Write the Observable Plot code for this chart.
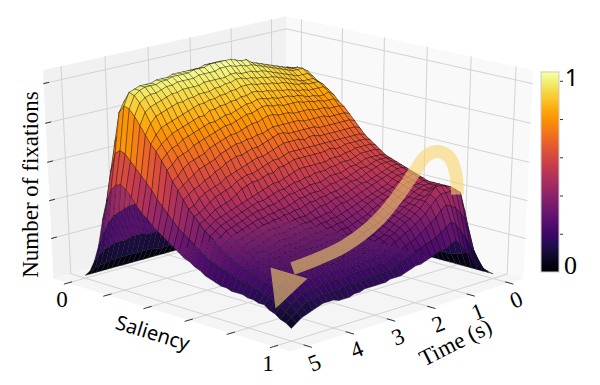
<!DOCTYPE html>
<html><head><meta charset="utf-8">
<style>html,body{margin:0;padding:0;background:#fff}</style>
<script src="https://cdn.jsdelivr.net/npm/d3@7"></script>
<script src="https://cdn.jsdelivr.net/npm/@observablehq/plot@0.6"></script>
</head><body><div id="chart"></div>
<script>
const timeTicks=[0,1,2,3,4,5];
const salTicks=[0,0.2,0.4,0.6,0.8,1];
const zTicks=[0.2,0.4,0.6,0.8,1];
const colorMax=1.046;
// fixations (percent of peak), one row per time step (1/8 s), one column per saliency step (1/40)
const surface=[
[0,0,0,0,1,1,1,1,1,1, 1,1,1,1,1,1,1,1,1,1, 1,1,1,1,1,1,1,1,1,1, 1,1,1,1,1,1,1,1,1,1, 1],
[0,1,2,4,7,9,10,11,11,11, 11,10,10,10,9,9,9,8,8,8, 7,7,7,7,7,7,7,7,7,7, 7,7,7,7,8,9,10,11,7,4, 3],
[0,2,5,10,18,24,28,29,29,29, 28,28,27,26,25,24,23,22,21,20, 20,19,18,18,17,17,16,16,16,16, 16,17,17,18,18,19,20,20,14,9, 5],
[0,3,10,21,36,49,57,59,59,58, 58,57,56,54,53,51,50,49,47,45, 43,41,40,39,37,37,36,35,34,34, 33,33,34,34,35,35,36,35,24,14, 7],
[0,5,14,29,50,68,78,82,83,83, 81,79,78,76,74,72,70,67,64,62, 59,57,55,54,52,51,50,49,48,47, 47,46,46,46,46,46,46,45,32,19, 9],
[0,5,15,31,54,74,85,89,90,90, 88,86,85,83,81,78,76,73,70,67, 64,62,60,58,56,55,54,53,52,51, 50,49,48,48,48,48,48,47,36,24, 14],
[0,5,15,32,55,75,87,91,92,92, 90,88,87,85,83,80,77,74,71,68, 65,63,61,59,57,56,55,54,53,52, 51,50,49,48,48,48,49,47,39,28, 18],
[0,5,15,32,55,76,88,92,92,92, 90,88,87,85,82,80,77,74,71,68, 65,63,61,59,57,56,55,54,53,51, 50,49,48,48,47,48,50,47,41,32, 22],
[0,5,15,32,55,76,88,92,93,92, 90,88,87,85,82,80,77,74,71,68, 65,63,61,59,57,56,55,53,52,51, 50,49,48,47,47,47,50,47,42,34, 25],
[0,5,15,32,54,76,89,93,94,93, 91,89,88,85,83,81,78,74,71,68, 65,63,61,59,57,55,54,52,51,50, 49,48,47,46,45,45,47,45,40,32, 24],
[0,5,15,32,54,77,89,94,95,94, 92,90,88,86,83,81,78,75,71,68, 65,63,60,58,56,54,53,51,50,48, 47,46,45,44,44,44,44,42,37,30, 22],
[0,5,15,31,54,77,90,95,96,95, 93,91,89,86,84,82,78,75,71,68, 65,62,60,57,55,54,52,50,49,47, 46,45,44,43,42,42,41,39,35,28, 22],
[0,5,15,31,54,77,91,96,97,96, 94,92,90,87,85,82,79,75,71,68, 65,62,59,57,55,53,51,49,48,46, 45,44,43,41,41,40,39,37,33,27, 21],
[0,5,15,31,54,77,92,97,98,97, 95,93,91,88,85,83,79,75,72,68, 65,63,59,57,54,52,50,49,47,45, 44,43,41,40,39,38,37,35,31,26, 20],
[0,5,15,31,53,78,93,98,99,98, 96,94,91,88,86,83,79,75,72,69, 65,62,59,56,53,51,50,48,46,44, 43,41,40,38,38,37,36,33,29,25, 19],
[0,5,14,31,53,78,94,99,100,99, 97,94,92,89,86,83,79,76,72,69, 65,62,58,56,53,51,49,47,45,43, 42,40,38,37,36,35,34,32,28,24, 18],
[0,5,14,31,53,79,95,100,102,100, 97,95,92,89,86,83,80,76,72,68, 65,62,58,55,53,50,48,46,44,42, 40,38,37,35,34,33,32,30,27,23, 18],
[0,5,14,30,52,79,96,101,102,100, 98,95,93,90,87,84,80,76,72,69, 65,62,58,55,52,50,47,45,43,41, 39,37,36,34,33,31,31,29,25,22, 17],
[0,5,14,30,52,80,97,102,103,101, 98,96,93,90,87,84,80,76,72,69, 65,62,58,55,51,49,47,45,43,40, 38,36,35,33,31,30,29,27,24,21, 16],
[0,5,14,30,52,80,98,102,104,101, 98,96,94,91,88,85,81,76,73,69, 65,62,58,54,51,48,46,44,42,39, 37,35,33,32,30,29,28,26,23,20, 15],
[0,5,14,30,52,80,98,103,104,102, 99,97,94,91,88,85,81,76,73,69, 65,62,58,54,51,48,46,43,40,38, 36,34,32,30,28,27,26,24,21,18, 15],
[0,5,14,30,53,80,98,103,104,102, 99,97,94,90,87,84,80,75,72,68, 64,61,57,53,50,48,45,43,40,38, 36,34,32,30,28,27,26,24,21,18, 15],
[0,5,15,31,53,81,98,103,104,102, 98,96,93,90,87,83,79,74,71,67, 63,60,56,53,50,47,45,42,39,37, 35,33,32,30,28,27,26,24,21,18, 14],
[0,5,15,31,54,81,98,103,104,101, 98,96,93,89,86,83,79,74,70,66, 63,60,55,52,49,47,44,41,39,37, 35,33,31,30,28,27,26,24,21,18, 14],
[0,5,15,32,55,81,98,102,103,101, 98,95,92,89,85,82,78,73,69,65, 62,58,54,51,49,46,43,40,38,36, 34,33,31,29,28,26,25,23,21,18, 14],
[0,5,15,32,55,82,98,102,103,101, 98,95,92,88,84,81,77,73,69,65, 61,58,54,51,48,45,43,40,38,36, 34,32,31,29,28,26,25,23,21,17, 14],
[0,5,16,33,56,82,98,102,103,101, 98,94,91,88,84,80,76,72,68,64, 60,57,53,50,47,44,42,40,38,36, 34,32,30,29,28,26,25,23,21,17, 14],
[0,5,16,33,57,82,98,102,102,100, 97,94,91,87,83,80,76,72,67,63, 59,56,52,49,46,44,42,39,37,35, 33,32,30,29,27,26,25,23,21,17, 13],
[0,6,16,33,57,83,98,102,102,100, 97,94,90,87,82,79,75,71,67,62, 59,56,51,48,46,43,41,39,37,35, 33,31,30,29,27,26,25,23,20,17, 13],
[0,6,16,34,58,83,97,102,102,100, 97,93,90,85,82,78,74,70,66,61, 58,55,50,48,45,43,41,38,36,34, 32,31,30,28,27,26,25,23,20,17, 12],
[0,6,16,34,58,83,97,101,102,100, 97,93,89,85,81,77,73,69,65,60, 57,54,49,47,45,42,40,38,36,34, 32,31,30,28,27,26,25,23,20,16, 12],
[0,6,17,34,59,84,97,101,101,99, 96,92,88,84,80,76,72,67,63,59, 55,52,48,46,44,42,40,38,36,34, 32,30,29,28,27,26,25,23,20,16, 12],
[0,6,17,35,60,84,97,101,101,99, 96,92,87,83,79,75,70,66,62,57, 54,50,47,45,43,41,39,37,35,33, 31,30,29,28,27,26,25,23,20,16, 13],
[0,6,17,35,60,84,96,100,100,98, 95,91,86,82,78,74,69,65,60,56, 53,49,46,44,42,40,38,36,34,32, 30,29,28,27,26,25,24,22,19,16, 13],
[0,6,16,35,60,84,96,100,100,97, 94,90,85,81,77,72,68,64,59,55, 52,48,45,43,41,39,37,35,33,31, 30,29,28,27,26,25,24,22,19,16, 13],
[0,6,16,34,59,83,96,100,100,97, 93,89,84,80,75,71,67,62,57,54, 50,47,44,42,40,38,36,34,32,31, 29,28,27,26,25,24,23,21,19,15, 12],
[0,6,16,33,58,82,95,99,99,96, 92,88,83,78,74,70,65,60,56,52, 48,45,43,41,39,37,35,33,31,30, 28,27,27,26,25,24,23,21,18,15, 11],
[0,5,15,32,55,79,93,98,97,94, 90,85,80,76,72,67,62,58,54,49, 46,43,41,39,37,35,33,31,29,28, 26,26,25,24,23,22,21,19,16,13, 10],
[0,5,14,29,50,73,88,92,91,88, 84,80,76,73,69,65,60,56,52,48, 45,42,39,37,35,33,31,29,27,26, 25,24,23,22,21,20,18,16,14,11, 9],
[0,4,12,24,42,58,68,70,69,66, 63,60,57,54,50,47,44,41,38,36, 34,32,30,28,26,25,24,23,22,21, 20,20,19,18,17,16,15,13,11,9, 7],
[0,3,9,18,32,43,50,53,54,52, 49,45,42,40,37,35,33,31,29,27, 25,24,22,21,19,18,17,16,16,15, 15,15,14,14,13,13,11,10,8,7, 5]
];
const arrowShaftX=[457,455,449,437,425,415,400,378,345,318,292];
const arrowShaftY=[194,172,157,151,156,170,192,219,245,258,268];
const arrowHeadX=[270,307,275,270];
const arrowHeadY=[267,278,308,267];

// camera: box coordinates (u, v, w) to picture coordinates
function proj(u,v,w){
  const h=u-v,g=u+v-1,d=1-0.0633*g-0.041*w;
  return {x:(288+235*h-16.5*g-12.3*w)/d,y:(278-211*w+50.8*g)/d};
}
const U=s=>0.065+0.87*s, V=t=>0.065+0.865*t/5, W=z=>0.014+0.925*z;
const seg=(id,pts)=>pts.map(p=>({id,...proj(...p)}));

const leftWall=seg("l",[[0,1,0],[0,0,0],[0,0,1],[0,1,1],[0,1,0]]);
const rightWall=seg("r",[[0,0,0],[1,0,0],[1,0,1],[0,0,1],[0,0,0]]);
const floorPane=seg("f",[[0,1,0],[1,1,0],[1,0,0],[0,0,0],[0,1,0]]);
const grid=[];
timeTicks.forEach(t=>{grid.push(...seg("lt"+t,[[0,V(t),0],[0,V(t),1]]),...seg("ft"+t,[[0,V(t),0],[1,V(t),0]]));});
salTicks.forEach(s=>{grid.push(...seg("rs"+s,[[U(s),0,0],[U(s),0,1]]),...seg("fs"+s,[[U(s),0,0],[U(s),1,0]]));});
zTicks.forEach(z=>{grid.push(...seg("lz"+z,[[0,0,W(z)],[0,1,W(z)]]),...seg("rz"+z,[[0,0,W(z)],[1,0,W(z)]]));});
const ticks=[];
timeTicks.forEach(t=>ticks.push(...seg("tt"+t,[[0.985,V(t),0],[1.015,V(t),0]])));
salTicks.forEach(s=>ticks.push(...seg("st"+s,[[U(s),0.985,0],[U(s),1.015,0]])));
zTicks.forEach(z=>ticks.push(...seg("zt"+z,[[0,1.0,W(z)],[0,0.98,W(z)]])));

// surface facets, painted far to near
const facets=[];
const nT=surface.length,nS=surface[0].length;
for(let j=0;j<nT-1;j++)for(let i=0;i<nS-1;i++){
  const c=[[i,j],[i+1,j],[i+1,j+1],[i,j+1]].map(([a,b])=>({u:U(a/(nS-1)),v:V(b/(nT-1)*5),val:surface[b][a]/100}));
  const val=d3.mean(c,d=>d.val);
  const depth=d3.mean(c,d=>0.96*(d.u+d.v-1)+0.25*W(d.val));
  facets.push({c,val,depth});
}
facets.sort((a,b)=>a.depth-b.depth);
const facetPts=[];
facets.forEach((f,q)=>{[...f.c,f.c[0]].forEach(d=>{facetPts.push({q,val:f.val,...proj(d.u,d.v,W(d.val))});});});

const barY=z=>272-200*z/colorMax;
const levels=d3.range(0,400).map(k=>k/400*colorMax);
const barTicks=zTicks.map(z=>({y:barY(z)}));
const T=(a)=>a;
const chart=Plot.plot({
  width:600,height:385,margin:0,
  x:{domain:[0,600],axis:null},
  y:{domain:[385,0],axis:null},
  color:{type:"linear",scheme:"inferno",domain:[0,colorMax]},
  style:{background:"#fff"},
  marks:[
    Plot.line(leftWall,{x:"x",y:"y",fill:"#f1f1f1",stroke:"none"}),
    Plot.line(rightWall,{x:"x",y:"y",fill:"#f9f9f9",stroke:"none"}),
    Plot.line(floorPane,{x:"x",y:"y",fill:"#f5f5f5",stroke:"none"}),
    Plot.line(grid,{x:"x",y:"y",z:"id",stroke:"#d3d3d3",strokeWidth:1}),
    Plot.line(ticks,{x:"x",y:"y",z:"id",stroke:"#333",strokeWidth:1}),
    Plot.line(facetPts,{x:"x",y:"y",z:"q",fill:"val",stroke:"#111",strokeOpacity:0.72,strokeWidth:0.5}),
    Plot.line(arrowShaftX.map((x,i)=>({x,y:arrowShaftY[i]})),{x:"x",y:"y",curve:"catmull-rom",stroke:"#f7d26a",strokeOpacity:0.6,strokeWidth:13,strokeLinecap:"butt"}),
    Plot.line(arrowHeadX.map((x,i)=>({x,y:arrowHeadY[i]})),{x:"x",y:"y",fill:"#f7d26a",fillOpacity:0.6,stroke:"none"}),
    Plot.rect(levels,{x1:541,x2:559,y1:z=>barY(z),y2:z=>barY(z)-1.2,fill:z=>z}),
    Plot.rect([0],{x1:541,x2:559,y1:272,y2:72,fill:"none",stroke:"#ccc",strokeWidth:1}),
    Plot.ruleY(barTicks,{y:"y",x1:560,x2:563,stroke:"#333",strokeWidth:1}),
    Plot.text(timeTicks,{x:t=>proj(1,V(t),0).x,y:t=>proj(1,V(t),0).y,dx:7,dy:17,text:t=>String(t),fontFamily:"Liberation Serif",fontSize:23,rotate:-22,fill:"#000"}),
    Plot.text([0,1],{x:s=>proj(U(s),1,0).x,y:s=>proj(U(s),1,0).y,dx:-6,dy:17,text:s=>String(s),fontFamily:"Liberation Serif",fontSize:23,fill:"#000"}),
    Plot.text(["Number of fixations"],{x:30,y:184,text:T,rotate:-90,fontFamily:"Liberation Serif",fontSize:23,fill:"#000"}),
    Plot.text(["Saliency"],{x:152,y:333,text:T,rotate:17,fontFamily:"Noto Sans",fontSize:20,fill:"#000"}),
    Plot.text(["Time (s)"],{x:455,y:342,text:T,rotate:-27,fontFamily:"Liberation Serif",fontSize:23,fill:"#000"}),
    Plot.text(["1"],{x:571,y:78,text:T,fontFamily:"Noto Sans",fontSize:24,fill:"#000"}),
    Plot.text(["0"],{x:570,y:265,text:T,fontFamily:"Liberation Serif",fontSize:26,fill:"#000"})
  ]
});
document.getElementById("chart").appendChild(chart);
</script></body></html>
